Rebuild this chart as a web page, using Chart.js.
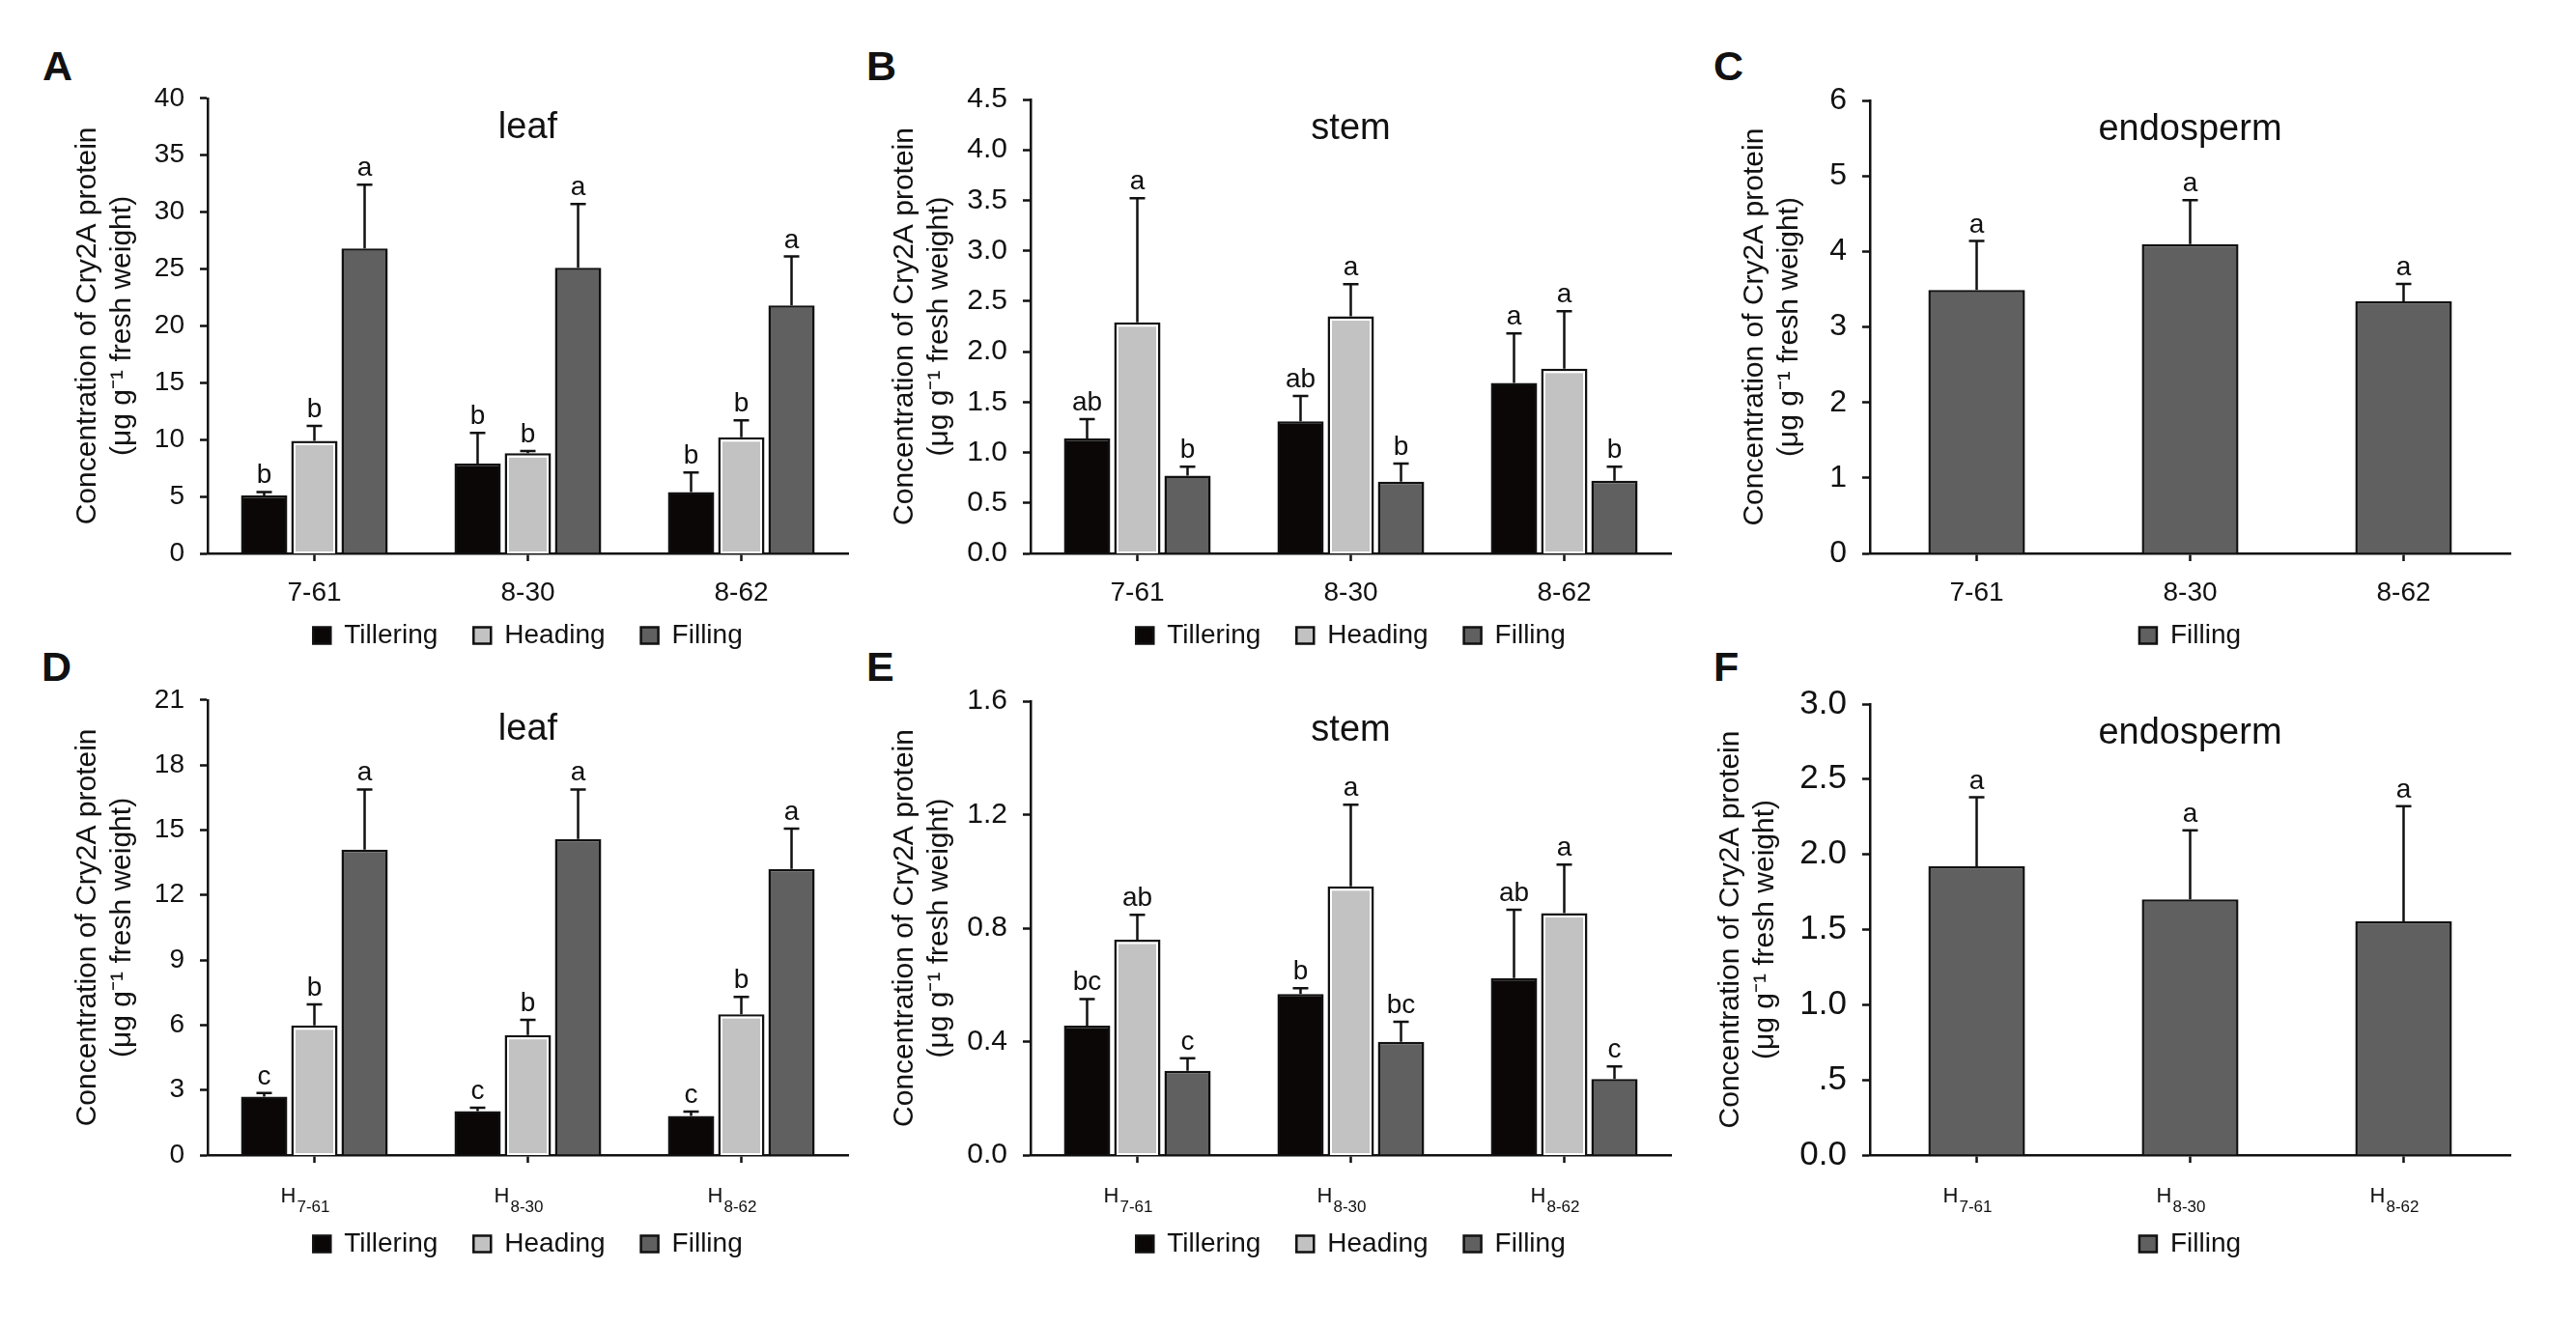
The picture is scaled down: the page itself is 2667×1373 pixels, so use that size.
<!DOCTYPE html>
<html>
<head>
<meta charset="utf-8">
<script src="https://cdn.jsdelivr.net/npm/chart.js@4.4.1/dist/chart.umd.min.js"></script>
<style>
  html, body { margin: 0; background: #fff; }
  #fig { position: relative; width: 2667px; height: 1373px; overflow: hidden; background: #fff; }
  canvas { position: absolute; }
  .tag { position: absolute; font: bold 43px 'Liberation Sans', Arial, sans-serif; line-height: 43px; color: #111; }
</style>
</head>
<body>
<div id="fig">
  <div class="tag" style="left:44px;top:47px">A</div>
  <div class="tag" style="left:897px;top:47px">B</div>
  <div class="tag" style="left:1774px;top:47px">C</div>
  <div class="tag" style="left:43px;top:669px">D</div>
  <div class="tag" style="left:897px;top:669px">E</div>
  <div class="tag" style="left:1774px;top:669px">F</div>
  <canvas id="cA"></canvas>
  <canvas id="cB"></canvas>
  <canvas id="cC"></canvas>
  <canvas id="cD"></canvas>
  <canvas id="cE"></canvas>
  <canvas id="cF"></canvas>
</div>
<script>
// ---- data ----
const stages = ['Tillering', 'Heading', 'Filling'];
const lines = ['7-61', '8-30', '8-62'];

// A: leaf, parental lines
const leafT = [5.1, 7.9, 5.4],    leafTErr = [0.3, 2.7, 1.7],  leafTSig = ['b', 'b', 'b'];
const leafH = [9.9, 8.8, 10.2],   leafHErr = [1.3, 0.2, 1.5],  leafHSig = ['b', 'b', 'b'];
const leafF = [26.8, 25.1, 21.8], leafFErr = [5.6, 5.6, 4.3],  leafFSig = ['a', 'a', 'a'];

// B: stem, parental lines
const stemT = [1.14, 1.31, 1.69], stemTErr = [0.19, 0.25, 0.49], stemTSig = ['ab', 'ab', 'a'];
const stemH = [2.29, 2.35, 1.83], stemHErr = [1.23, 0.32, 0.57], stemHSig = ['a', 'a', 'a'];
const stemF = [0.77, 0.71, 0.72], stemFErr = [0.09, 0.18, 0.14], stemFSig = ['b', 'b', 'b'];

// C: endosperm, parental lines
const endoF = [3.49, 4.10, 3.34], endoFErr = [0.65, 0.58, 0.23], endoFSig = ['a', 'a', 'a'];

// D: leaf, hybrids
const hLeafT = [2.70, 2.03, 1.81],   hLeafTErr = [0.16, 0.15, 0.19], hLeafTSig = ['c', 'c', 'c'];
const hLeafH = [5.98, 5.54, 6.50],   hLeafHErr = [0.97, 0.70, 0.80], hLeafHSig = ['b', 'b', 'b'];
const hLeafF = [14.09, 14.58, 13.20], hLeafFErr = [2.78, 2.29, 1.86], hLeafFSig = ['a', 'a', 'a'];

// E: stem, hybrids
const hStemT = [0.456, 0.568, 0.624], hStemTErr = [0.094, 0.020, 0.241], hStemTSig = ['bc', 'b', 'ab'];
const hStemH = [0.759, 0.947, 0.853], hStemHErr = [0.088, 0.288, 0.171], hStemHSig = ['ab', 'a', 'a'];
const hStemF = [0.297, 0.399, 0.268], hStemFErr = [0.044, 0.071, 0.044], hStemFSig = ['c', 'bc', 'c'];

// F: endosperm, hybrids
const hEndoF = [1.92, 1.70, 1.555], hEndoFErr = [0.46, 0.46, 0.765], hEndoFSig = ['a', 'a', 'a'];

// y tick labels
const ticksA = ['0', '5', '10', '15', '20', '25', '30', '35', '40'];
const ticksB = ['0.0', '0.5', '1.0', '1.5', '2.0', '2.5', '3.0', '3.5', '4.0', '4.5'];
const ticksC = ['0', '1', '2', '3', '4', '5', '6'];
const ticksD = ['0', '3', '6', '9', '12', '15', '18', '21'];
const ticksE = ['0.0', '0.4', '0.8', '1.2', '1.6'];
const ticksF = ['0.0', '.5', '1.0', '1.5', '2.0', '2.5', '3.0'];

const yTitle = ['Concentration of Cry2A protein', '(\u03bcg g\u207b\u00b9 fresh weight)'];

// ---- styling ----
const family = "'Liberation Sans', Arial, Helvetica, sans-serif";
const ink = '#111';
const stageStyle = {
  Tillering: { bg: '#0b0707', inner: false },
  Heading:   { bg: '#c2c2c2', inner: true },
  Filling:   { bg: '#606060', inner: false }
};
Chart.defaults.font.family = family;
Chart.defaults.color = ink;

// white inner edge on light bars, error bars and letters
const barExtras = {
  id: 'barExtras',
  afterDatasetsDraw(chart) {
    const ctx = chart.ctx;
    const y = chart.scales.y;
    ctx.save();
    chart.data.datasets.forEach((ds, i) => {
      chart.getDatasetMeta(i).data.forEach((bar, j) => {
        if (ds.inner) {
          ctx.strokeStyle = '#fff';
          ctx.lineWidth = 2;
          ctx.strokeRect(bar.x - bar.width / 2 + 3.5, bar.y + 3.5, bar.width - 7, bar.base - bar.y - 4);
        }
        const top = y.getPixelForValue(ds.data[j] + ds.errs[j]);
        ctx.strokeStyle = ink;
        ctx.lineWidth = 2.5;
        ctx.beginPath();
        ctx.moveTo(bar.x, bar.y);
        ctx.lineTo(bar.x, top);
        ctx.moveTo(bar.x - 8, top);
        ctx.lineTo(bar.x + 8, top);
        ctx.stroke();
        ctx.fillStyle = ink;
        ctx.font = '28px ' + family;
        ctx.textAlign = 'center';
        ctx.textBaseline = 'alphabetic';
        ctx.fillText(ds.sig[j], bar.x, top - 9);
      });
    });
    ctx.restore();
  }
};

function panelTitle(text) {
  return {
    id: 'panelTitle',
    afterDraw(chart) {
      const { ctx, chartArea } = chart;
      ctx.save();
      ctx.fillStyle = ink;
      ctx.font = '38px ' + family;
      ctx.textAlign = 'center';
      ctx.textBaseline = 'alphabetic';
      ctx.fillText(text, (chartArea.left + chartArea.right) / 2, chartArea.top + 41);
      ctx.restore();
    }
  };
}

// category labels under the x axis; "H" + subscript for the hybrids
const catLabels = {
  id: 'catLabels',
  afterDraw(chart) {
    const { ctx, chartArea } = chart;
    const x = chart.scales.x;
    const hybrid = chart.options.plugins.catLabels.hybrid;
    ctx.save();
    ctx.fillStyle = ink;
    ctx.textBaseline = 'alphabetic';
    chart.data.labels.forEach((lab, i) => {
      const cx = x.getPixelForTick(i);
      if (!hybrid) {
        ctx.font = '28px ' + family;
        ctx.textAlign = 'center';
        ctx.fillText(lab, cx, chartArea.bottom + 49);
        return;
      }
      const head = lab.slice(0, 1), sub = lab.slice(1);
      ctx.textAlign = 'left';
      ctx.font = '22px ' + family;
      const wh = ctx.measureText(head).width;
      ctx.font = '17px ' + family;
      const ws = ctx.measureText(sub).width;
      const x0 = cx - (wh + ws) / 2 - 10;
      ctx.font = '22px ' + family;
      ctx.fillText(head, x0, chartArea.bottom + 49);
      ctx.font = '17px ' + family;
      ctx.fillText(sub, x0 + wh + 1, chartArea.bottom + 59);
    });
    ctx.restore();
  }
};

function series(stage, values, errs, sig) {
  const st = stageStyle[stage];
  return {
    label: stage,
    data: values,
    errs: errs,
    sig: sig,
    inner: st.inner,
    backgroundColor: st.bg,
    borderColor: ink,
    borderWidth: 2.5
  };
}

function makePanel(p) {
  const canvas = document.getElementById(p.id);
  const width = p.yWidth + 663 + 12;
  const height = 30 + 474 + p.xHeight + 75;
  canvas.width = width;
  canvas.height = height;
  canvas.style.width = width + 'px';
  canvas.style.height = height + 'px';
  canvas.style.left = (p.axisX - p.yWidth) + 'px';
  canvas.style.top = (p.axisTop - 30) + 'px';

  const single = p.datasets.length === 1;
  const tickLabels = p.yTicks;

  new Chart(canvas, {
    type: 'bar',
    data: { labels: p.labels, datasets: p.datasets },
    options: {
      responsive: false,
      animation: false,
      devicePixelRatio: 1,
      layout: { padding: { top: 30, right: 12, bottom: 0, left: 0 } },
      datasets: {
        bar: single
          ? { categoryPercentage: 1.0, barPercentage: 0.453 }
          : { categoryPercentage: 0.706, barPercentage: 0.923 }
      },
      plugins: {
        tooltip: { enabled: false },
        catLabels: { hybrid: !!p.hybrid },
        legend: {
          position: 'bottom',
          fullSize: false,
          labels: {
            boxWidth: 18,
            boxHeight: 17,
            padding: 37,
            color: ink,
            font: { size: 28, family: family }
          }
        }
      },
      scales: {
        x: {
          offset: true,
          grid: { display: true, drawOnChartArea: false, offset: false, tickLength: 8, tickWidth: 2.5, tickColor: ink },
          border: { display: true, color: ink, width: 2.5 },
          ticks: { display: false },
          afterFit: s => { s.height = p.xHeight; }
        },
        y: {
          min: 0,
          max: Number(tickLabels[tickLabels.length - 1]),
          ticks: {
            stepSize: Number(tickLabels[1]),
            font: { size: p.yFont },
            color: ink,
            padding: 16,
            callback: v => {
              const t = tickLabels.find(l => Math.abs(Number(l) - v) < 1e-6);
              return t === undefined ? '' : t;
            }
          },
          grid: { display: true, drawOnChartArea: false, tickLength: 8, tickWidth: 2.5, tickColor: ink },
          border: { display: true, color: ink, width: 2.5 },
          title: {
            display: true,
            text: yTitle,
            color: ink,
            font: { size: 30 },
            padding: { top: 8, bottom: 4 }
          },
          afterFit: s => { s.width = p.yWidth; }
        }
      }
    },
    plugins: [barExtras, panelTitle(p.title), catLabels]
  });
}

const hLines = lines.map(l => 'H' + l);

makePanel({
  id: 'cA', title: 'leaf', labels: lines, yTicks: ticksA, yFont: 28,
  axisX: 215, axisTop: 99, yWidth: 150, xHeight: 34,
  datasets: [
    series('Tillering', leafT, leafTErr, leafTSig),
    series('Heading', leafH, leafHErr, leafHSig),
    series('Filling', leafF, leafFErr, leafFSig)
  ]
});
makePanel({
  id: 'cB', title: 'stem', labels: lines, yTicks: ticksB, yFont: 30,
  axisX: 1067, axisTop: 99, yWidth: 156, xHeight: 34,
  datasets: [
    series('Tillering', stemT, stemTErr, stemTSig),
    series('Heading', stemH, stemHErr, stemHSig),
    series('Filling', stemF, stemFErr, stemFSig)
  ]
});
makePanel({
  id: 'cC', title: 'endosperm', labels: lines, yTicks: ticksC, yFont: 32,
  axisX: 1936, axisTop: 99, yWidth: 145, xHeight: 34,
  datasets: [series('Filling', endoF, endoFErr, endoFSig)]
});
makePanel({
  id: 'cD', title: 'leaf', labels: hLines, yTicks: ticksD, yFont: 28, hybrid: true,
  axisX: 215, axisTop: 722, yWidth: 150, xHeight: 41,
  datasets: [
    series('Tillering', hLeafT, hLeafTErr, hLeafTSig),
    series('Heading', hLeafH, hLeafHErr, hLeafHSig),
    series('Filling', hLeafF, hLeafFErr, hLeafFSig)
  ]
});
makePanel({
  id: 'cE', title: 'stem', labels: hLines, yTicks: ticksE, yFont: 30, hybrid: true,
  axisX: 1067, axisTop: 722, yWidth: 156, xHeight: 41,
  datasets: [
    series('Tillering', hStemT, hStemTErr, hStemTSig),
    series('Heading', hStemH, hStemHErr, hStemHSig),
    series('Filling', hStemF, hStemFErr, hStemFSig)
  ]
});
makePanel({
  id: 'cF', title: 'endosperm', labels: hLines, yTicks: ticksF, yFont: 35, hybrid: true,
  axisX: 1936, axisTop: 722, yWidth: 170, xHeight: 41,
  datasets: [series('Filling', hEndoF, hEndoFErr, hEndoFSig)]
});
</script>
</body>
</html>
